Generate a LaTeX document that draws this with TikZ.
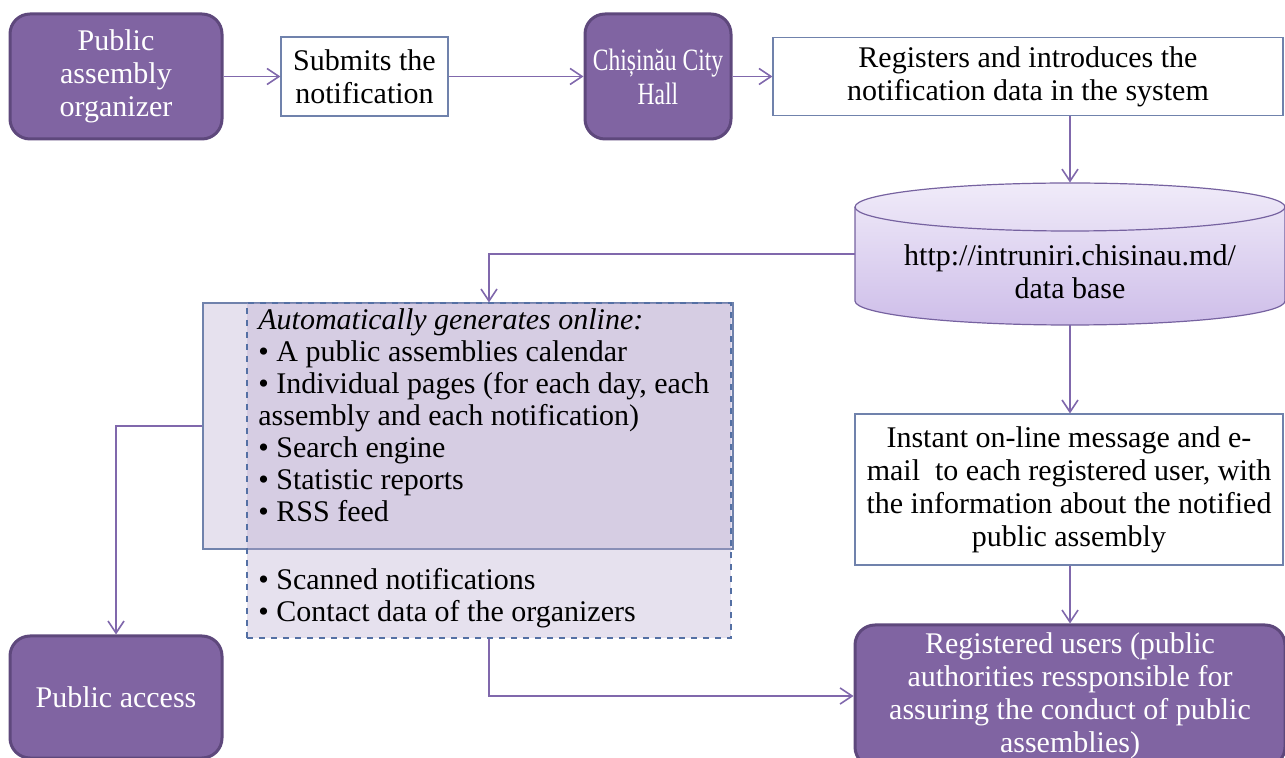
\documentclass[tikz,border=0pt]{standalone}
\usepackage{fontspec}
\setmainfont{Liberation Serif}
\newfontfamily\hallfont{Liberation Serif}[FakeStretch=0.76]
\definecolor{assemblypurple}{RGB}{128,100,162}
\definecolor{assemblyedge}{RGB}{94,72,124}
\definecolor{flowline}{RGB}{128,104,172}
\definecolor{boxedge}{RGB}{112,130,172}
\definecolor{dashedge}{RGB}{84,112,164}
\definecolor{lavender}{RGB}{184,169,206}
\definecolor{dbtop}{RGB}{240,235,249}
\definecolor{dbbottom}{RGB}{206,190,233}
\definecolor{dbedge}{RGB}{118,98,160}
\usetikzlibrary{arrows.meta,positioning,calc}
\tikzset{
    actor/.style={rectangle, rounded corners=10pt, draw=assemblyedge, line width=1.5pt, fill=assemblypurple,
        text=white, align=center, inner sep=2pt, font=\fontsize{15}{16.5}\selectfont},
    stepbox/.style={rectangle, draw=boxedge, line width=0.6pt, fill=white, align=center, inner sep=2pt,
        font=\fontsize{15}{16.5}\selectfont},
    listbox/.style={rectangle, line width=0.6pt, fill=lavender, fill opacity=0.35, draw opacity=1},
    listtext/.style={anchor=north west, align=left, inner sep=0pt, font=\fontsize{15}{16}\selectfont},
    flow/.style={draw=flowline, line width=0.8pt, -{Straight Barb[length=6pt,width=8pt]}}
}
\begin{document}
\begin{tikzpicture}[x=0.5pt, y=-0.5pt]
    \useasboundingbox (0,0) rectangle (1285,758);
    \node[actor, minimum width=106pt, minimum height=62.5pt] (organizer) at (116,76.5) {Public\\assembly\\organizer};
    \node[stepbox, minimum width=83.5pt, minimum height=39.5pt] (submit) at (364.5,76.5) {Submits the\\notification};
    \node[actor, minimum width=73pt, minimum height=62.5pt, font=\hallfont\fontsize{15.5}{17}\selectfont] (hall) at (658,76.5) {Chișinău City\\Hall};
    \node[stepbox, minimum width=255pt, minimum height=39pt] (register) at (1028,76.5) {Registers and introduces the\\notification data in the system};

    \coordinate (dbrim) at (1070,207);
    \shadedraw[top color=dbtop, bottom color=dbbottom, draw=dbedge, line width=0.6pt]
        ($(dbrim)+(-215,0)$) -- ++(0,94) arc[start angle=180, end angle=360, x radius=107.5pt, y radius=12pt]
        -- ++(0,-94) arc[start angle=0, end angle=180, x radius=107.5pt, y radius=12pt] -- cycle;
    \draw[dbedge, line width=0.6pt] ($(dbrim)+(-215,0)$) arc[start angle=180, end angle=360, x radius=107.5pt, y radius=12pt];
    \node[minimum width=215pt, minimum height=71pt, inner sep=0pt] (db) at (1070,254) {};
    \node[align=center, inner sep=0pt, font=\fontsize{15}{16.5}\selectfont] (dblabel) at (1070,272) {http://intruniri.chisinau.md/\\data base};

    \node[listbox, draw=boxedge, minimum width=265pt, minimum height=123pt] (auto) at (468,426) {};
    \node[listbox, draw=dashedge, dashed, minimum width=242pt, minimum height=167.5pt] (online) at (489,470.5) {};
    \node[listtext] (generated) at (258,308) {\textit{Automatically generates online:}\\
        • A public assemblies calendar\\
        • Individual pages (for each day, each\\
        assembly and each notification)\\
        • Search engine\\
        • Statistic reports\\
        • RSS feed};
    \node[listtext] (archive) at (258,568) {• Scanned notifications\\
        • Contact data of the organizers};

    \node[stepbox, minimum width=214pt, minimum height=75.5pt] (instant) at (1069,489.5) {Instant on-line message and e-\\mail\ \ to each registered user, with\\the information about the notified\\public assembly};
    \node[actor, minimum width=215pt, minimum height=71pt] (users) at (1070,696) {Registered users (public\\authorities ressponsible for\\assuring the conduct of public\\assemblies)};
    \node[actor, minimum width=106pt, minimum height=61pt] (access) at (116,697) {Public access};

    \draw[flow] (organizer) -- (submit);
    \draw[flow] (submit) -- (hall);
    \draw[flow] (hall) -- (register);
    \draw[flow] (db.north |- register.south) -- (db.north);
    \draw[flow] (db.south) -- (db.south |- instant.north);
    \draw[flow] (instant.south -| users.north) -- (users.north);
    \draw[flow] (db.west) -| (online.north);
    \draw[flow] (auto.west) -| (access.north);
    \draw[flow] (online.south) |- (users.west);
\end{tikzpicture}
\end{document}
